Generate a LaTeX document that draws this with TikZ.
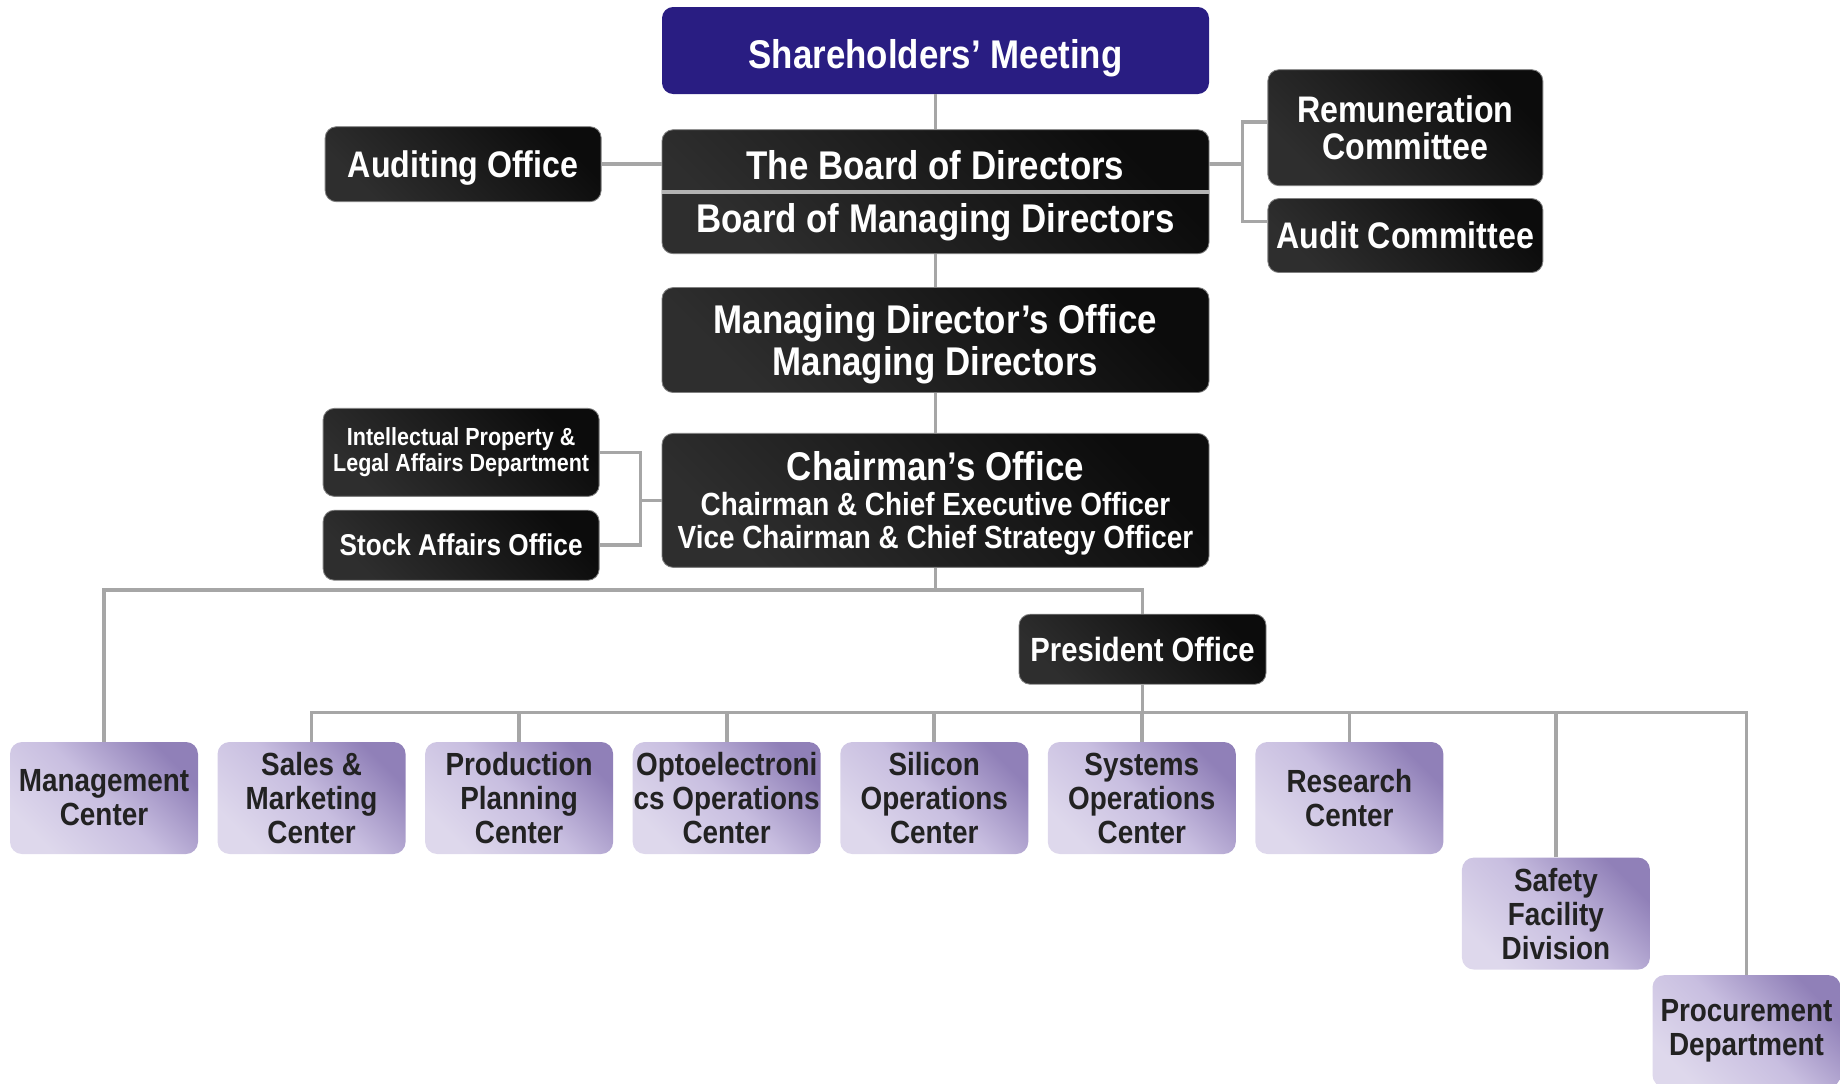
\documentclass[tikz,border=0pt]{standalone}
\usepackage{fontspec}
\setmainfont{Liberation Sans}[FakeStretch=0.87]
\usetikzlibrary{positioning,calc}

\definecolor{meetblue}{RGB}{41,29,130}
\definecolor{linegray}{RGB}{166,166,166}
\definecolor{boxdark}{RGB}{12,12,12}
\definecolor{boxlight}{RGB}{46,46,46}
\definecolor{lavdark}{RGB}{144,128,184}
\definecolor{lavmid}{RGB}{200,190,224}
\definecolor{lavlight}{RGB}{222,216,236}
\definecolor{textdark}{RGB}{34,34,34}

\begin{document}
\begin{tikzpicture}[
    node distance=0.5cm,
    office/.style={rectangle, rounded corners=0.28cm, top color=boxdark, bottom color=boxlight, shading angle=-45, draw=black!50, line width=0.6pt, text=white, align=center, inner sep=0pt},
    meeting/.style={rectangle, rounded corners=0.28cm, fill=meetblue, text=white, align=center, inner sep=0pt},
    unit/.style={rectangle, rounded corners=0.3cm, top color=lavdark, bottom color=lavlight, middle color=lavmid, shading angle=-45, text=textdark, align=center, inner sep=0pt, minimum width=4.7cm, minimum height=2.8cm, font=\fontsize{22.8}{24.2}\selectfont\bfseries},
    wide/.style={minimum width=13.675cm},
    side/.style={minimum width=6.9cm},
    link/.style={draw=linegray, line width=2.6pt},
    divider/.style={draw=linegray!85, line width=2.8pt}
]

\useasboundingbox (0,0) rectangle (46,-27.1);

% Top of the chart
\node[meeting, wide, minimum height=2.175cm, font=\fontsize{28.5}{30}\selectfont\bfseries, text height=25.8pt, text depth=0pt] (meet) at (23.3875,-1.2625) {Shareholders’ Meeting};

\node[office, wide, minimum height=3.1cm, font=\fontsize{28.5}{37.7}\selectfont\bfseries, text depth=0pt, below=0.875cm of meet] (board) {The Board of Directors\\Board of Managing Directors};
\draw[divider] (board.west) -- (board.east);

\node[office, side, minimum height=1.875cm, font=\fontsize{26.3}{28}\selectfont\bfseries, text depth=0pt, left=1.5cm of board.west, yshift=0.6875cm] (audoff) {Auditing Office};

% Committees
\node[office, minimum width=6.875cm, minimum height=2.9cm, font=\fontsize{26.3}{26.7}\selectfont\bfseries, right=1.45cm of board.east, yshift=1.6cm] (remun) {Remuneration\\Committee};
\node[office, minimum width=6.875cm, minimum height=1.85cm, font=\fontsize{26.3}{28}\selectfont\bfseries, below=0.3cm of remun] (audcom) {Audit Committee};

\node[office, wide, minimum height=2.625cm, font=\fontsize{28.5}{30}\selectfont\bfseries, text depth=0pt, below=0.825cm of board] (mdo) {Managing Director’s Office\\Managing Directors};

\node[office, wide, minimum height=3.35cm, font=\fontsize{22.8}{23.4}\selectfont\bfseries, text depth=0pt, below=1.0cm of mdo] (chair) {{\fontsize{28.5}{30}\selectfont Chairman’s Office}\\[1.5pt]
    Chairman \& Chief Executive Officer\\
    Vice Chairman \& Chief Strategy Officer};

% Staff offices
\node[office, side, minimum height=2.2cm, font=\fontsize{17.6}{18.5}\selectfont\bfseries, left=1.55cm of chair.west, yshift=1.2cm] (ipla) {Intellectual Property \&\\Legal Affairs Department};
\node[office, side, minimum height=1.75cm, font=\fontsize{21.4}{23}\selectfont\bfseries, below=0.325cm of ipla] (stock) {Stock Affairs Office};

\node[office, minimum width=6.175cm, minimum height=1.75cm, font=\fontsize{23.9}{25}\selectfont\bfseries, below=1.15cm of chair, xshift=5.175cm] (pres) {President Office};

% Centers
\node[unit] (mgmt) at (2.6,-19.95) {Management\\Center};
\node[unit, right=0.475cm of mgmt] (sales) {Sales \&\\Marketing\\Center};
\node[unit, right=0.475cm of sales] (prod) {Production\\Planning\\Center};
\node[unit, right=0.475cm of prod] (opto) {Optoelectroni\\cs Operations\\Center};
\node[unit, right=0.475cm of opto] (silicon) {Silicon\\Operations\\Center};
\node[unit, right=0.475cm of silicon] (systems) {Systems\\Operations\\Center};
\node[unit, right=0.475cm of systems] (research) {Research\\Center};
\node[unit, below right=0.075cm and 0.45cm of research] (safety) {Safety\\Facility\\Division};
\node[unit, below right=0.125cm and 0.05cm of safety] (procure) {Procurement\\Department};

% Lines
\draw[link] (meet) -- (board);
\draw[link] (board) -- (mdo);
\draw[link] (mdo) -- (chair);
\draw[link] (audoff) -- (audoff -| board.west);
\draw[link] (audoff -| board.east) -- ++(0.825,0) coordinate (rbr);
\draw[link] ([yshift=0.15cm]remun.west) -| (rbr) |- ([yshift=0.35cm]audcom.west);
\draw[link] (chair.west) -- ++(-0.525,0) coordinate (lbr);
\draw[link] (ipla.east) -| (lbr) |- (stock.east);

\draw[link] (chair.south) -- ++(0,-0.55) coordinate (bus1);
\draw[link] (mgmt.north) |- (bus1) -| (pres.north);
\draw[link] (pres.south) -- ++(0,-0.7) coordinate (bus2);
\draw[link] (sales.north) |- (bus2) -| (procure.north);
\foreach \n in {prod,opto,silicon,systems,research,safety}
    \draw[link] (\n.north) -- (\n.north |- bus2);

\end{tikzpicture}
\end{document}
